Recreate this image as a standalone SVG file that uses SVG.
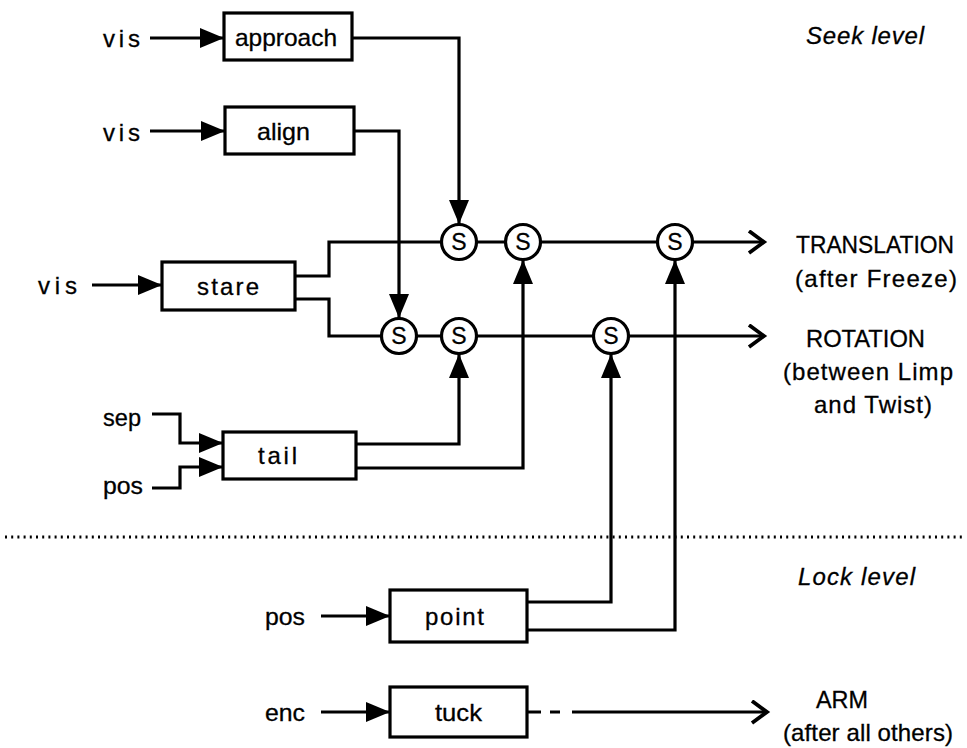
<svg xmlns="http://www.w3.org/2000/svg" width="967" height="748" viewBox="0 0 967 748">
<style>
text{font-family:"Liberation Sans",Arial,sans-serif;font-size:24px;fill:#000;stroke:#000;stroke-width:0.3}
.box{fill:#fff;stroke:#000;stroke-width:3.2}
.sw{fill:#fff;stroke:#000;stroke-width:3.2}
.st{font-size:23px;text-anchor:middle}
.c{fill:none;stroke:#000;stroke-width:3.2}
.it{font-style:italic}
</style>
<defs>
<marker id="tri" markerUnits="userSpaceOnUse" markerWidth="26" markerHeight="22" refX="24" refY="10" orient="auto">
<path d="M0,0 L24,10 L0,20 z" fill="#000"/>
</marker>
<marker id="chev" markerUnits="userSpaceOnUse" markerWidth="22" markerHeight="28" refX="17" refY="12" orient="auto">
<path d="M2,1 L17,12 L2,23" fill="none" stroke="#000" stroke-width="3.8"/>
</marker>
</defs>
<rect width="967" height="748" fill="#fff"/>

<line x1="5" y1="537" x2="962" y2="537" stroke="#000" stroke-width="3" stroke-dasharray="2 4.2"/>

<g id="connectors">
<path class="c" d="M150,38 H224" marker-end="url(#tri)"/>
<path class="c" d="M150,131 H225" marker-end="url(#tri)"/>
<path class="c" d="M92,285 H162" marker-end="url(#tri)"/>
<path class="c" d="M152,414 H180 V443 H223" marker-end="url(#tri)"/>
<path class="c" d="M152,488 H180 V467 H223" marker-end="url(#tri)"/>
<path class="c" d="M352,38 H459 V224" marker-end="url(#tri)"/>
<path class="c" d="M354,131 H399 V318" marker-end="url(#tri)"/>
<path class="c" d="M295,276 H329 V242 H764" marker-end="url(#chev)"/>
<path class="c" d="M295,299 H329 V336 H764" marker-end="url(#chev)"/>
<path class="c" d="M356,444 H459 V354" marker-end="url(#tri)"/>
<path class="c" d="M356,468 H523 V260" marker-end="url(#tri)"/>
<path class="c" d="M527,602 H611 V354" marker-end="url(#tri)"/>
<path class="c" d="M527,630 H675 V260" marker-end="url(#tri)"/>
<path class="c" d="M321,616 H390" marker-end="url(#tri)"/>
<path class="c" d="M321,712 H390" marker-end="url(#tri)"/>
<path class="c" d="M527,712 H541 M550,712 H560"/>
<path class="c" d="M572,712 H767" marker-end="url(#chev)"/>
</g>

<g id="inputs">
<text x="103" y="47" textLength="37" lengthAdjust="spacing">vis</text>
<text x="103" y="141" textLength="37" lengthAdjust="spacing">vis</text>
<text x="38" y="294" textLength="39" lengthAdjust="spacing">vis</text>
<text x="103" y="426" textLength="38" lengthAdjust="spacingAndGlyphs">sep</text>
<text x="103" y="494" textLength="40" lengthAdjust="spacingAndGlyphs">pos</text>
<text x="265" y="625" textLength="40" lengthAdjust="spacingAndGlyphs">pos</text>
<text x="265" y="721" textLength="40" lengthAdjust="spacingAndGlyphs">enc</text>
</g>

<g id="approach"><rect class="box" x="224" y="13" width="128" height="47"/><text x="235" y="46" textLength="102" lengthAdjust="spacingAndGlyphs">approach</text></g>
<g id="align"><rect class="box" x="225" y="107" width="129" height="47"/><text x="257" y="140" textLength="53" lengthAdjust="spacingAndGlyphs">align</text></g>
<g id="stare"><rect class="box" x="162" y="262" width="133" height="48"/><text x="197" y="295" textLength="62" lengthAdjust="spacing">stare</text></g>
<g id="tail"><rect class="box" x="223" y="432" width="133" height="47"/><text x="258" y="464" textLength="39" lengthAdjust="spacing">tail</text></g>
<g id="point"><rect class="box" x="390" y="590" width="137" height="52"/><text x="425" y="625" textLength="59" lengthAdjust="spacing">point</text></g>
<g id="tuck"><rect class="box" x="390" y="687" width="137" height="50"/><text x="435" y="721" textLength="47" lengthAdjust="spacingAndGlyphs">tuck</text></g>

<g id="s-t1"><circle class="sw" cx="459" cy="242" r="17.5"/><text class="st" x="459" y="250">S</text></g>
<g id="s-t2"><circle class="sw" cx="523" cy="242" r="17.5"/><text class="st" x="523" y="250">S</text></g>
<g id="s-t3"><circle class="sw" cx="675" cy="242" r="17.5"/><text class="st" x="675" y="250">S</text></g>
<g id="s-r1"><circle class="sw" cx="399" cy="336" r="17.5"/><text class="st" x="399" y="344">S</text></g>
<g id="s-r2"><circle class="sw" cx="459" cy="336" r="17.5"/><text class="st" x="459" y="344">S</text></g>
<g id="s-r3"><circle class="sw" cx="611" cy="336" r="17.5"/><text class="st" x="611" y="344">S</text></g>

<g id="outputs">
<text x="796" y="253" textLength="158" lengthAdjust="spacingAndGlyphs">TRANSLATION</text>
<text x="795" y="287" textLength="162" lengthAdjust="spacing">(after  Freeze)</text>
<text x="806" y="347" textLength="119" lengthAdjust="spacingAndGlyphs">ROTATION</text>
<text x="783" y="380" textLength="170" lengthAdjust="spacing">(between Limp</text>
<text x="814" y="413" textLength="118" lengthAdjust="spacing">and Twist)</text>
<text x="816" y="708" textLength="52" lengthAdjust="spacingAndGlyphs">ARM</text>
<text x="783" y="741" textLength="170" lengthAdjust="spacing">(after  all  others)</text>
</g>

<g id="levels">
<text class="it" x="806" y="44" textLength="118" lengthAdjust="spacing">Seek  level</text>
<text class="it" x="798" y="585" textLength="117" lengthAdjust="spacing">Lock  level</text>
</g>
</svg>
